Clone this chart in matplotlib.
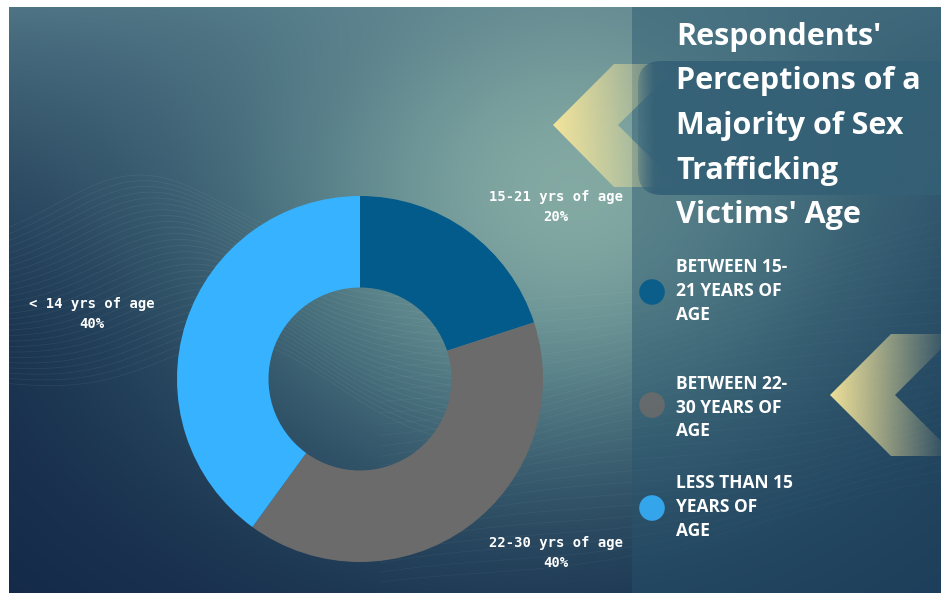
import numpy as np
import matplotlib
matplotlib.use("Agg")
import matplotlib.pyplot as plt
from matplotlib.patches import Polygon, FancyBboxPatch, Rectangle

# ---------------- data ----------------
slice_labels = ["15-21 yrs of age", "22-30 yrs of age", "< 14 yrs of age"]
slice_values = [20, 40, 40]
slice_colors = ["#025b8b", "#6b6b6b", "#36b2fe"]
legend_labels = ["BETWEEN 15-\n21 YEARS OF\nAGE",
                 "BETWEEN 22-\n30 YEARS OF\nAGE",
                 "LESS THAN 15\nYEARS OF\nAGE"]
title_lines = ["Respondents'", "Perceptions of a", "Majority of Sex",
               "Trafficking", "Victims' Age"]

W, H = 941, 595
fig = plt.figure(figsize=(W / 100, H / 100), dpi=100)
fig.patch.set_facecolor("white")

# ---------------- background axes (pixel coordinates) ----------------
bg = fig.add_axes([0, 0, 1, 1])
bg.set_xlim(0, W)
bg.set_ylim(H, 0)
bg.axis("off")

x0, y0, x1, y1 = 9, 7, W, 593
yy, xx = np.mgrid[y0:y1, x0:x1].astype(float)


def lerp(a, b, w):
    return a + (b - a) * w[..., None]


dark = np.array([18, 38, 70]) / 255
teal = np.array([66, 114, 128]) / 255
mid = np.array([85, 125, 140]) / 255
light = np.array([135, 172, 165]) / 255
g = np.exp(-(((xx - 520) / 420) ** 2 + ((yy - 220) / 320) ** 2))
a = np.clip(1 - yy / 350, 0, 1) ** 1.5 * 0.9
b = np.exp(-(((xx - 575) / 250) ** 2 + ((yy - 190) / 210) ** 2)) * 0.95
img = np.full(xx.shape + (3,), 0.0) + dark
img = lerp(img, teal, g)
img = lerp(img, mid, a)
img = lerp(img, light, b)
bg.imshow(np.clip(img, 0, 1), extent=(x0, x1, y1, y0), aspect="auto", zorder=0,
          interpolation="bilinear")

# faint wave textures
xs = np.linspace(x0, 470, 300)
for k in range(28):
    yv = 250 + k * 5 - 75 * np.exp(-((xs - 140 - k * 4) / 120) ** 2) + 0.05 * (xs - 9) * (k / 10)
    bg.plot(xs, yv, color="white", lw=0.5, alpha=0.07, zorder=1)
xs2 = np.linspace(380, W, 300)
for k in range(30):
    yv = 330 + k * 9 - 0.18 * (xs2 - 380) + 10 * np.sin(xs2 / 90 + k * 0.25)
    bg.plot(xs2, yv, color="white", lw=0.5, alpha=0.05, zorder=1)

# right panel overlay
bg.add_patch(Rectangle((632, y0), W - 632, y1 - y0, facecolor=(40 / 255, 85 / 255, 110 / 255),
                       alpha=0.45, edgecolor="none", zorder=2))


def gradient_shape(verts, xa, xb, color, a0, a1, z):
    poly = Polygon(verts, closed=True, facecolor="none", edgecolor="none",
                   transform=bg.transData, zorder=z)
    bg.add_patch(poly)
    xs_ = np.linspace(0, 1, 256)
    arr = np.zeros((2, 256, 4))
    arr[..., :3] = color
    arr[..., 3] = a0 + (a1 - a0) * xs_
    ymin = min(v[1] for v in verts)
    ymax = max(v[1] for v in verts)
    im = bg.imshow(arr, extent=(xa, xb, ymax, ymin), aspect="auto", zorder=z,
                   interpolation="bilinear")
    im.set_clip_path(poly)


yellow = np.array([250, 232, 155]) / 255
# chevron 1 (behind title box)
c1 = [(553, 125), (614, 64), (680, 64), (618, 125), (680, 187), (614, 187)]
gradient_shape(c1, 553, 680, yellow, 0.95, 0.0, 3)
# chevron 2
c2 = [(830, 395), (891, 334), (956, 334), (895, 395), (956, 456), (891, 456)]
gradient_shape(c2, 830, 945, yellow, 0.95, 0.05, 3)

# dark title box
box = FancyBboxPatch((638, 61), 330, 134, boxstyle="round,pad=0,rounding_size=24",
                     facecolor="none", edgecolor="none", transform=bg.transData, zorder=4)
bg.add_patch(box)
arr = np.zeros((2, 256, 4))
arr[..., :3] = np.array([52, 96, 118]) / 255
arr[..., 3] = np.clip(0.35 + np.linspace(0, 1, 256) * 12, 0, 0.92)
im = bg.imshow(arr, extent=(638, 968, 195, 61), aspect="auto", zorder=4, interpolation="bilinear")
im.set_clip_path(box)

# title
title_baselines = [45, 89, 134, 179, 223]
for line, yb in zip(title_lines, title_baselines):
    bg.text(676, yb, line, color="white", fontsize=22, fontweight="bold",
            family="Open Sans", va="baseline", ha="left", zorder=6)

# legend
legend_y = [292, 405, 508]
legend_baselines = [[272, 296, 320], [389, 413, 436], [488, 512, 536]]
for lab, col, ym, bls in zip(legend_labels, slice_colors, legend_y, legend_baselines):
    bg.scatter([652], [ym], s=340, color=col, alpha=0.88, edgecolors="none", zorder=6)
    for line, yb in zip(lab.split("\n"), bls):
        bg.text(676, yb, line, color="white", fontsize=12.5, fontweight="bold",
                family="Open Sans", va="baseline", ha="left", zorder=6)

# ---------------- donut ----------------
cx, cy, R = 360, 379, 183
pax = fig.add_axes([(cx - R) / W, (H - cy - R) / H, 2 * R / W, 2 * R / H])
pax.set_zorder(5)
pax.patch.set_alpha(0)
wedges, _ = pax.pie(slice_values, colors=slice_colors, startangle=90, counterclock=False,
                    radius=1, wedgeprops=dict(width=0.5, edgecolor="none"))
pax.set_xlim(-1, 1)
pax.set_ylim(-1, 1)
pax.axis("off")

# outside labels (positions in pixels)
label_pos = [(556, 207), (556, 553), (92, 314)]
for lab, val, (lx, ly) in zip(slice_labels, slice_values, label_pos):
    bg.text(lx, ly, f"{lab}\n{val}%", color="white", fontsize=10, fontweight="bold",
            family="DejaVu Sans Mono", ha="center", va="center", multialignment="center",
            linespacing=1.5, zorder=6)

fig.savefig("out.png", dpi=100, facecolor="white")
